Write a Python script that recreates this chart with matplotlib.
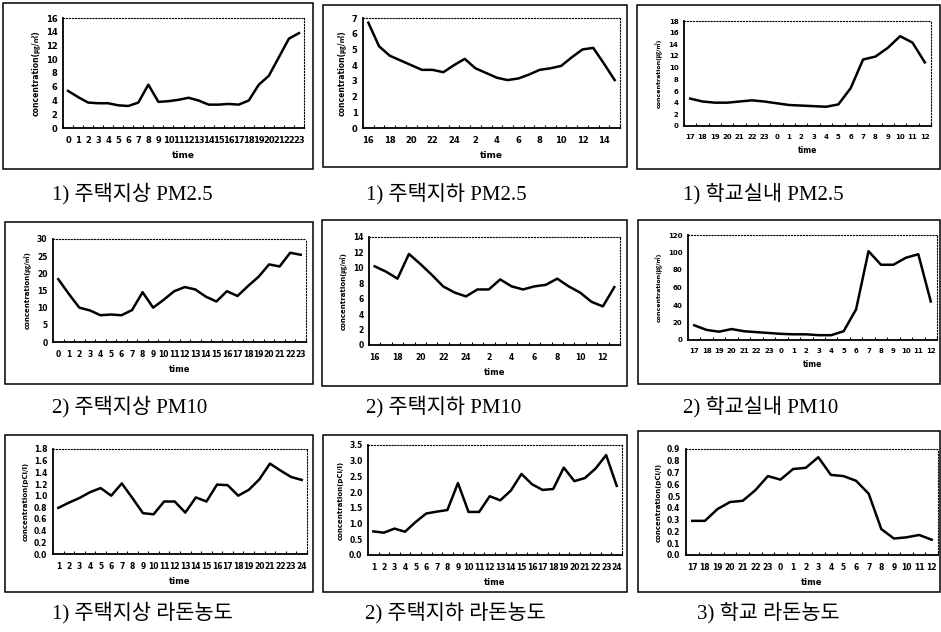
import numpy as np
import matplotlib
matplotlib.use("Agg")
import matplotlib.pyplot as plt
from matplotlib.patches import Rectangle

# ---- data -------------------------------------------------------------
hours_0_23 = [str(h) for h in range(24)]
hours_1_24 = [str(h) for h in range(1, 25)]
hours_16_15 = [str(h) for h in list(range(16, 25)) + list(range(1, 16))]
hours_16_13 = [str(h) for h in list(range(16, 25)) + list(range(1, 14))]
hours_17_12 = [str(h) for h in list(range(17, 24)) + list(range(0, 13))]

house_ground_pm25 = [5.4, 4.5, 3.7, 3.6, 3.6, 3.3, 3.2, 3.7, 6.3, 3.8, 3.9, 4.1,
                     4.4, 4.0, 3.4, 3.4, 3.5, 3.4, 4.0, 6.3, 7.6, 10.3, 13.0, 13.8]
house_base_pm25 = [6.7, 5.2, 4.6, 4.3, 4.0, 3.7, 3.7, 3.55, 4.0, 4.4, 3.8, 3.5,
                   3.2, 3.05, 3.15, 3.4, 3.7, 3.8, 3.95, 4.5, 5.0, 5.1, 4.1, 3.05]
school_pm25 = [4.7, 4.2, 4.0, 4.0, 4.2, 4.4, 4.2, 3.9, 3.6, 3.5,
               3.4, 3.3, 3.7, 6.5, 11.4, 11.9, 13.4, 15.4, 14.3, 10.9]

house_ground_pm10 = [18.3, 14.0, 10.0, 9.2, 7.8, 8.0, 7.8, 9.3, 14.5, 10.0, 12.3, 14.8,
                     16.0, 15.3, 13.2, 11.8, 14.8, 13.4, 16.3, 19.0, 22.6, 22.0, 26.0, 25.4]
house_base_pm10 = [10.2, 9.5, 8.6, 11.8, 10.5, 9.1, 7.6, 6.8, 6.3, 7.2, 7.2,
                   8.5, 7.6, 7.2, 7.6, 7.8, 8.6, 7.6, 6.8, 5.6, 5.0, 7.5]
school_pm10 = [16.8, 11.5, 9.5, 12.5, 10.0, 9.0, 8.0, 7.0, 6.5, 6.5,
               5.5, 5.5, 10.0, 35.0, 101.5, 86.0, 86.0, 94.0, 98.0, 44.0]

house_ground_rn = [0.79, 0.88, 0.96, 1.06, 1.13, 1.00, 1.21, 0.96, 0.70, 0.68, 0.90, 0.90,
                   0.71, 0.97, 0.90, 1.19, 1.18, 1.00, 1.10, 1.28, 1.55, 1.43, 1.32, 1.27]
house_base_rn = [0.75, 0.71, 0.84, 0.74, 1.05, 1.32, 1.38, 1.43, 2.29, 1.37, 1.37, 1.87,
                 1.74, 2.05, 2.58, 2.25, 2.07, 2.10, 2.78, 2.35, 2.45, 2.75, 3.18, 2.20]
school_rn = [0.29, 0.29, 0.39, 0.45, 0.46, 0.55, 0.67, 0.64, 0.73, 0.74,
             0.83, 0.68, 0.67, 0.63, 0.52, 0.22, 0.14, 0.15, 0.17, 0.13]

captions = ["1) 주택지상 PM2.5", "1) 주택지하 PM2.5", "1) 학교실내 PM2.5",
            "2) 주택지상 PM10", "2) 주택지하 PM10", "2) 학교실내 PM10",
            "1) 주택지상 라돈농도", "2) 주택지하 라돈농도", "3) 학교 라돈농도"]

PM_LABEL = "concentration(㎍/㎥)"
RN_LABEL = "concentration(pCi/l)"

W, H = 941, 632
CJK = ['DejaVu Sans', 'Noto Sans CJK KR']
CAP_FONT = ['Liberation Serif', 'Noto Sans CJK KR']


def px_rect(left, top, right, bottom):
    """Pixel box (from top-left) -> figure fraction rect."""
    return [left / W, 1 - bottom / H, (right - left) / W, (bottom - top) / H]


def draw_panel(fig, rect, frame, labels, values, yticks, yfmt, ylabel,
               every=1, fs=5.5):
    """One scanned-style Excel line chart with its outer frame."""
    fl, ft, fr, fb = frame
    fig.patches.append(Rectangle((fl / W, 1 - fb / H), (fr - fl) / W, (fb - ft) / H,
                                 transform=fig.transFigure, fill=False,
                                 edgecolor='black', linewidth=1.1))
    ax = fig.add_axes(px_rect(*rect))
    x = np.arange(len(values))
    ax.plot(x, values, color='black', linewidth=1.8)
    ax.set_xlim(-0.5, len(values) - 0.5)
    ax.set_ylim(yticks[0], yticks[-1])
    ax.set_yticks(yticks)
    ax.set_yticklabels([yfmt.format(v) for v in yticks], fontsize=fs, fontweight='bold')
    ax.set_xticks(x[::every])
    ax.set_xticklabels(labels[::every], fontsize=fs, fontweight='bold')
    ax.set_xticks(np.arange(len(values) + 1) - 0.5, minor=True)
    ax.tick_params(axis='x', which='major', length=0, pad=6)
    ax.tick_params(axis='x', which='minor', direction='in', length=2.5, width=0.8)
    ax.tick_params(axis='y', length=0, pad=4)
    for side in ('left', 'bottom'):
        ax.spines[side].set_linewidth(1.3)
    for side in ('top', 'right'):
        ax.spines[side].set_linestyle(':')
        ax.spines[side].set_linewidth(0.8)
    ax.set_xlabel('time', fontsize=fs + 0.5, fontweight='bold', labelpad=4)
    ax.set_ylabel(ylabel, fontsize=fs - 0.5, fontweight='bold', family=CJK, labelpad=4)
    return ax


fig = plt.figure(figsize=(W / 100, H / 100), dpi=100)

draw_panel(fig, (63, 18, 304, 128), (3, 3, 313, 169), hours_0_23, house_ground_pm25,
           np.arange(0, 17, 2), '{:.0f}', PM_LABEL, fs=6)
draw_panel(fig, (363, 18, 620, 128), (323, 5, 627, 167), hours_16_15, house_base_pm25,
           np.arange(0, 8, 1), '{:.0f}', PM_LABEL, every=2, fs=6)
draw_panel(fig, (684, 21, 931, 126), (637, 5, 940, 169), hours_17_12, school_pm25,
           np.arange(0, 19, 2), '{:.0f}', PM_LABEL, fs=5)

draw_panel(fig, (53, 239, 306, 342), (5, 222, 313, 384), hours_0_23, house_ground_pm10,
           np.arange(0, 31, 5), '{:.0f}', PM_LABEL, fs=5.5)
draw_panel(fig, (369, 237, 620, 345), (322, 220, 627, 386), hours_16_13, house_base_pm10,
           np.arange(0, 15, 2), '{:.0f}', PM_LABEL, every=2, fs=5.5)
draw_panel(fig, (688, 235, 937, 340), (638, 220, 940, 384), hours_17_12, school_pm10,
           np.arange(0, 121, 20), '{:.0f}', PM_LABEL, fs=5)

draw_panel(fig, (53, 449, 307, 554), (5, 435, 313, 592), hours_1_24, house_ground_rn,
           np.round(np.arange(0, 1.81, 0.2), 1), '{:.1f}', RN_LABEL, fs=5.5)
draw_panel(fig, (368, 445, 622, 555), (323, 435, 627, 592), hours_1_24, house_base_rn,
           np.round(np.arange(0, 3.51, 0.5), 1), '{:.1f}', RN_LABEL, fs=5.5)
draw_panel(fig, (686, 449, 938, 555), (638, 431, 940, 592), hours_17_12, school_rn,
           np.round(np.arange(0, 0.91, 0.1), 1), '{:.1f}', RN_LABEL, fs=5.5)

cap_pos = [(52, 194), (366, 194), (683, 194),
           (52, 407), (366, 407), (683, 407),
           (52, 613), (365, 613), (697, 613)]
for (cx, cy), text in zip(cap_pos, captions):
    fig.text(cx / W, 1 - cy / H, text, ha='left', va='center',
             fontsize=15, family=CAP_FONT)

fig.savefig('out.png', dpi=100)
